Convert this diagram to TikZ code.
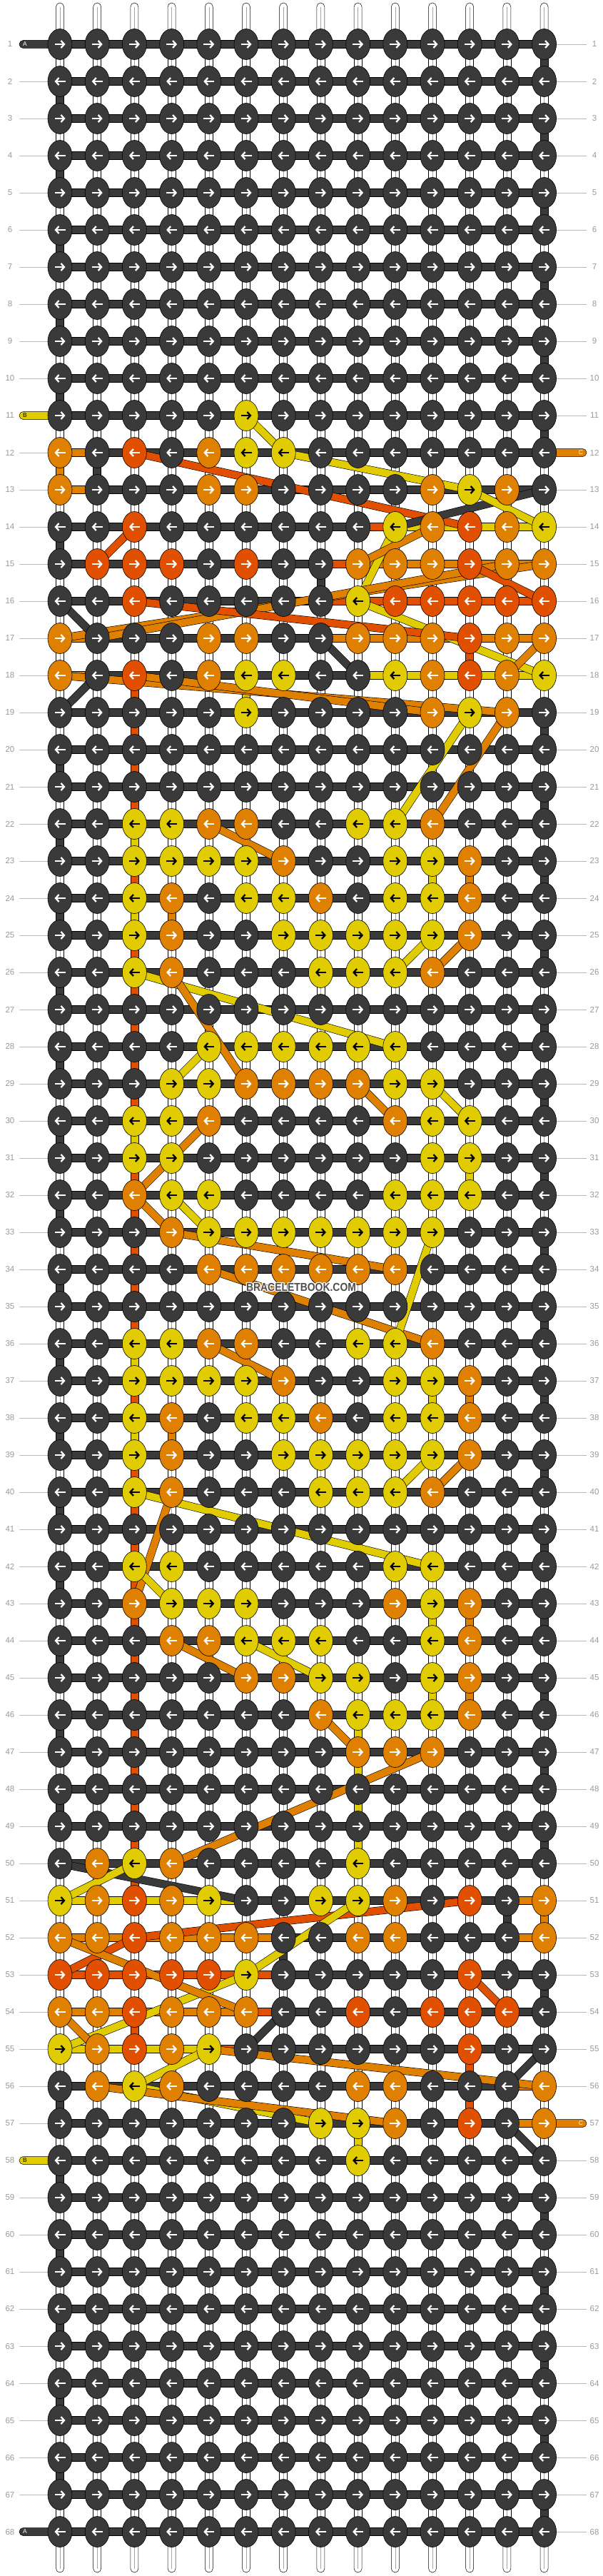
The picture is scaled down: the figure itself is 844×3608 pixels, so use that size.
\documentclass[tikz,border=0pt]{standalone}
\usepackage{fontspec}
\setmainfont{Liberation Sans}
\usetikzlibrary{shapes.geometric,arrows.meta}
\definecolor{kD}{HTML}{3A3A3A}
\definecolor{kY}{HTML}{E0CC00}
\definecolor{kO}{HTML}{E08000}
\definecolor{kR}{HTML}{E05000}
\definecolor{kW}{HTML}{FFFFFF}
\colorlet{aD}{white}\colorlet{aY}{black}\colorlet{aO}{white}\colorlet{aR}{white}
\definecolor{lbl}{HTML}{9A9A9A}
\newcommand\setrow[2]{\expandafter\def\csname kr#1\endcsname{#2}}
\setrow{11}{D,D,D,D,D,Y,D,D,D,D,D,D,D,D}
\setrow{12}{O,D,R,D,O,Y,Y,D,D,D,D,D,D,D}
\setrow{13}{O,D,D,D,O,O,D,D,D,D,O,Y,O,D}
\setrow{14}{D,D,R,D,D,D,D,D,D,Y,O,R,O,Y}
\setrow{15}{D,R,R,R,D,R,D,D,O,O,O,R,O,O}
\setrow{16}{D,D,R,D,D,D,D,D,Y,R,R,R,R,R}
\setrow{17}{O,D,D,D,O,O,D,D,O,O,O,R,O,O}
\setrow{18}{O,D,R,D,O,Y,Y,D,D,Y,O,R,O,Y}
\setrow{19}{D,D,D,D,D,Y,D,D,D,D,O,Y,O,D}
\setrow{22}{D,D,Y,Y,O,O,D,D,Y,Y,O,D,D,D}
\setrow{23}{D,D,Y,Y,Y,Y,O,D,D,Y,Y,O,D,D}
\setrow{24}{D,D,Y,O,D,Y,Y,O,D,Y,Y,O,D,D}
\setrow{25}{D,D,Y,O,D,D,Y,Y,Y,Y,Y,O,D,D}
\setrow{26}{D,D,Y,O,D,D,D,Y,Y,Y,O,D,D,D}
\setrow{28}{D,D,D,D,Y,Y,Y,Y,Y,Y,D,D,D,D}
\setrow{29}{D,D,D,Y,Y,O,O,O,O,Y,Y,D,D,D}
\setrow{30}{D,D,Y,Y,O,D,D,D,D,O,Y,Y,D,D}
\setrow{31}{D,D,Y,Y,D,D,D,D,D,D,Y,Y,D,D}
\setrow{32}{D,D,O,Y,Y,D,D,D,D,Y,Y,Y,D,D}
\setrow{33}{D,D,D,O,Y,Y,Y,Y,Y,Y,Y,D,D,D}
\setrow{34}{D,D,D,D,O,O,O,O,O,O,D,D,D,D}
\setrow{36}{D,D,Y,Y,O,O,D,D,Y,Y,O,D,D,D}
\setrow{37}{D,D,Y,Y,Y,Y,O,D,D,Y,Y,O,D,D}
\setrow{38}{D,D,Y,O,D,Y,Y,O,D,Y,Y,O,D,D}
\setrow{39}{D,D,Y,O,D,D,Y,Y,Y,Y,Y,O,D,D}
\setrow{40}{D,D,Y,O,D,D,D,Y,Y,Y,O,D,D,D}
\setrow{42}{D,D,Y,Y,D,D,D,D,D,Y,Y,D,D,D}
\setrow{43}{D,D,O,Y,Y,Y,D,D,D,O,Y,O,D,D}
\setrow{44}{D,D,D,O,O,Y,Y,Y,D,D,Y,O,D,D}
\setrow{45}{D,D,D,D,D,O,O,Y,Y,D,Y,O,D,D}
\setrow{46}{D,D,D,D,D,D,D,O,Y,Y,Y,O,D,D}
\setrow{47}{D,D,D,D,D,D,D,D,O,O,O,D,D,D}
\setrow{50}{D,O,Y,O,D,D,D,D,Y,D,D,D,D,D}
\setrow{51}{Y,O,R,O,Y,D,D,Y,Y,O,D,R,D,O}
\setrow{52}{O,O,R,O,O,O,D,D,O,O,D,D,D,O}
\setrow{53}{R,R,R,R,R,Y,D,D,D,D,D,R,D,D}
\setrow{54}{O,O,R,O,O,O,D,D,R,D,R,R,R,D}
\setrow{55}{Y,O,R,O,Y,D,D,D,D,D,D,R,D,D}
\setrow{56}{D,O,Y,O,D,D,D,D,O,O,D,D,D,O}
\setrow{57}{D,D,D,D,D,D,D,Y,Y,O,D,R,D,O}
\setrow{58}{D,D,D,D,D,D,D,D,Y,D,D,D,D,D}
\tikzset{
  knot/.style={ellipse, draw=black, line width=0.6pt, fill=k#1, minimum width=34pt, minimum height=43pt, inner sep=0pt},
  kar/.style={line width=2.3pt, draw=a#1, -{Straight Barb[length=4.5pt,width=10pt]}},
  seg/.style={draw=black, line width=0.5pt, fill=k#1},
  dline/.style={draw=black, line width=0.6pt, double=k#1, double distance=10pt},
  midl/.style={draw=black!35, line width=0.6pt},
  rowlbl/.style={text=lbl, font=\fontsize{11.5}{12}\selectfont, inner sep=0pt},
  lline/.style={draw=lbl!70, line width=0.8pt},
  endlbl/.style={font=\fontsize{8.5}{9}\selectfont, inner sep=0pt, text=#1},
  wmark/.style={font=\bfseries\fontsize{16}{17}\selectfont, xscale=0.87, inner sep=0pt, text=#1},
}
\newcommand\vseg[3]{\draw[seg=#3] (p-#1-#2) ++(-5.5,0) rectangle ++(11,52);
  \if#3W\draw[midl] (p-#1-#2) -- ++(0,52);\fi}
\newcommand\hseg[3]{\draw[seg=#3] (p-#1-#2) ++(0,-5.5) rectangle ++(52.2,11);}
\begin{document}
\begin{tikzpicture}[x=1pt,y=-1pt]
\fill[white] (0,0) rectangle (844,3608);
\useasboundingbox (0,0) rectangle (844,3608);
% grid points
\foreach \r in {1,...,68}{\foreach \c in {1,...,14}{
  \coordinate (p-\c-\r) at ({84+(\c-1)*52.2},{62+(\r-1)*52});}
  \coordinate (ll-\r) at (27,{62+(\r-1)*52});
  \coordinate (rl-\r) at (822,{62+(\r-1)*52});
}
% string ends top and bottom
\foreach \c in {1,...,14}{
  \draw[seg=W, rounded corners=5.5pt] (p-\c-1) ++(-5.5,-58) rectangle ++(11,68);
  \draw[midl] (p-\c-1) ++(0,-52) -- ++(0,52);
  \draw[seg=W, rounded corners=5.5pt] (p-\c-68) ++(-5.5,-10) rectangle ++(11,67);
  \draw[midl] (p-\c-68) -- ++(0,52);
}
% vertical segments (defaults)
\foreach \r in {1,...,67}{\foreach \c in {1,...,14}{%
  \def\vc{W}%
  \ifnum\c=1 \ifodd\r\relax\else\def\vc{D}\fi\fi
  \ifnum\c=14 \ifodd\r\relax\def\vc{D}\fi\fi
  \vseg{\c}{\r}{\vc}}}
% vertical segments (coloured / changed)
\foreach \r in {18,...,50}{\vseg{3}{\r}{R}}
\foreach \r in {22,24,30,36,38}{\vseg{3}{\r}{Y}}
\foreach \c/\r/\v in {1/12/O,2/12/D,14/13/W,8/15/D,14/15/W,1/16/W,12/17/R,14/17/W,1/18/W,6/18/Y,
  4/24/O,11/23/Y,12/23/O,12/31/Y,11/37/Y,12/37/O,4/38/O,11/43/Y,12/43/O,11/45/Y,12/45/O,
  9/46/Y,9/47/Y,9/48/Y,9/49/Y,1/50/W,14/51/O,13/51/D,1/52/W,7/52/D,1/54/W,3/54/R,
  12/55/R,14/55/W,12/56/R,9/57/Y,14/57/W}{\vseg{\c}{\r}{\v}}
% horizontal segments
\foreach \r in {1,...,68}{\foreach \c in {1,...,13}{\hseg{\c}{\r}{D}}}
\foreach \c/\r/\v in {1/12/O,1/13/O,9/14/R,10/14/Y,11/14/Y,12/14/Y,13/14/Y,
  8/15/R,9/15/O,10/15/O,11/15/O,12/15/O,13/15/O,
  8/16/R,9/16/R,10/16/R,11/16/R,12/16/R,13/16/R,
  1/17/O,8/17/O,9/17/O,10/17/O,11/17/O,12/17/O,13/17/O,
  1/18/O,9/18/Y,10/18/Y,11/18/Y,12/18/Y,13/18/Y,
  1/51/Y,2/51/Y,3/51/Y,4/51/Y,5/51/Y,13/51/O,
  1/52/O,2/52/O,3/52/O,4/52/O,5/52/O,6/52/O,13/52/O,
  1/53/R,2/53/R,3/53/R,4/53/R,5/53/R,6/53/R,
  1/54/O,2/54/O,3/54/O,4/54/O,5/54/O,6/54/R,
  1/55/Y,2/55/Y,3/55/Y,4/55/Y,5/55/R,13/56/O,13/57/O}{\hseg{\c}{\r}{\v}}
% string ends left / right
\foreach \r/\v/\t/\tc in {1/D/A/white,11/Y/B/black,58/Y/B/black,68/D/A/white}{
  \draw[seg=\v, rounded corners=5.5pt] (ll-\r) ++(0,-5.5) rectangle ++(64,11);
  \node[endlbl=\tc] (el-\r) at ([xshift=8pt]ll-\r) {\t};}
\foreach \r/\v/\t/\tc in {12/O/C/white,57/O/C/white}{
  \draw[seg=\v, rounded corners=5.5pt] (rl-\r) ++(0,-5.5) rectangle ++(-64,11);
  \node[endlbl=\tc] (er-\r) at ([xshift=-8pt]rl-\r) {\t};}
% diagonal strings
\foreach \cl/\ca/\ra/\cb/\rb in {Y/6/11/7/12,Y/7/12/12/13,R/3/12/12/14,D/10/14/14/13,Y/12/13/14/14,
  R/2/15/3/14,Y/10/14/9/16,O/11/14/9/15,O/1/17/14/15,O/2/17/13/15,R/12/15/14/16,Y/9/16/14/18,
  D/1/16/2/17,R/3/16/12/17,D/8/17/9/18,O/14/17/13/18,D/2/18/1/19,O/1/18/13/19,O/3/18/11/19,
  Y/12/19/10/22,O/13/19/11/22,O/5/22/7/23,Y/10/26/11/25,O/11/26/12/25,Y/3/26/10/28,O/4/26/6/29,
  Y/4/29/5/28,O/9/29/10/30,Y/11/29/12/30,O/5/30/3/32,O/3/32/4/33,Y/4/32/5/33,O/4/33/10/34,
  O/5/34/11/36,Y/11/33/10/36,O/5/36/7/37,Y/10/40/11/39,O/11/40/12/39,Y/3/40/11/42,O/4/40/3/43,
  Y/3/42/4/43,O/4/44/6/45,Y/6/44/8/45,O/8/46/9/47,O/11/47/4/50,D/1/50/6/51,Y/1/51/3/50,
  R/3/52/12/51,Y/9/51/6/53,Y/6/53/1/55,R/1/53/3/52,O/1/52/6/54,R/12/53/13/54,D/6/55/7/54,
  O/1/54/2/55,Y/3/56/5/55,O/5/55/14/56,D/13/56/14/55,Y/3/56/8/57,O/2/56/10/57,D/13/57/14/58}{
  \draw[dline=\cl] (p-\ca-\ra) -- (p-\cb-\rb);}
% row labels
\foreach \r in {2,...,10,12,13,...,57,59,60,...,67}{\draw[lline] (ll-\r) -- (p-1-\r);}
\foreach \r in {1,...,11,13,14,...,56,58,59,...,68}{\draw[lline] (rl-\r) -- (p-14-\r);}
\foreach \r in {1,...,68}{
  \node[rowlbl] (nl-\r) at ([xshift=-13pt]ll-\r) {\r};
  \node[rowlbl] (nr-\r) at ([xshift=11pt]rl-\r) {\r};}
% knots
\foreach \r in {1,...,68}{%
  \ifcsname kr\r\endcsname \edef\rowlist{\csname kr\r\endcsname}\else\def\rowlist{D,D,D,D,D,D,D,D,D,D,D,D,D,D}\fi
  \ifodd\r\relax \def\dir{1}\else\def\dir{-1}\fi
  \foreach \k [count=\c] in \rowlist {%
    \node[knot=\k] (k-\c-\r) at (p-\c-\r) {};
    \draw[kar=\k] (k-\c-\r.center) ++({-7.5*\dir},0) -- ++({15*\dir},0);
  }}
% watermark with white halo
\coordinate (wmc) at (422,1803);
\foreach \dx/\dy [count=\i] in {-1.3/0,1.3/0,0/-1.3,0/1.3,-1/-1,1/1,-1/1,1/-1}{
  \node[wmark=white] (wh-\i) at ([xshift=\dx pt,yshift=\dy pt]wmc) {BRACELETBOOK.COM};}
\node[wmark=kD!90] (wm) at (wmc) {BRACELETBOOK.COM};
\end{tikzpicture}
\end{document}
